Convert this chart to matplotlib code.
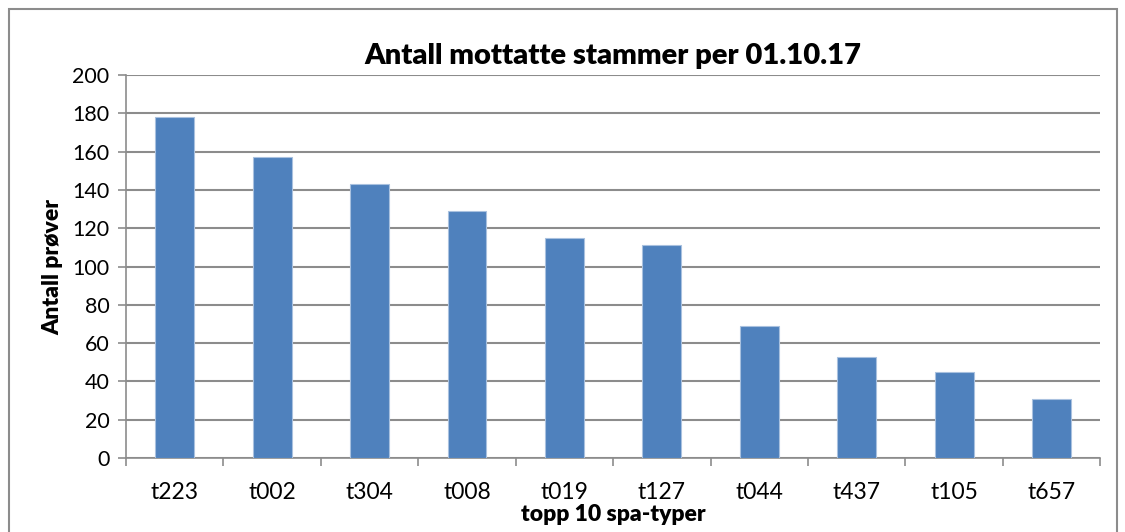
import matplotlib.pyplot as plt
import matplotlib.patches as patches
import numpy as np

plt.rcParams['font.family'] = ['Lato', 'DejaVu Sans']

spa_types = ['t223', 't002', 't304', 't008', 't019', 't127', 't044', 't437', 't105', 't657']
antall = [178, 157, 143, 129, 115, 111, 69, 53, 45, 31]

fig = plt.figure(figsize=(11.25, 5.32), dpi=100)
ax = fig.add_axes([0.112, 0.139, 0.866, 0.72])

x = np.arange(len(spa_types))
ax.bar(x, antall, width=0.4, color='#4F81BD', edgecolor='#A9C1DF', linewidth=0.8, zorder=3)

ax.set_xlim(-0.5, len(spa_types) - 0.5)
ax.set_ylim(0, 200)
ax.set_yticks(np.arange(0, 201, 20))
ax.yaxis.grid(True, color='#8C8C8C', linewidth=1.5, zorder=0)

ax.set_xticks(x)
ax.set_xticklabels(spa_types)
ax.set_xticks(np.arange(-0.5, len(spa_types)), minor=True)
ax.tick_params(axis='x', which='major', length=0, pad=17, labelsize=16.5)
ax.tick_params(axis='x', which='minor', length=6, width=1.2, color='#8C8C8C', direction='out')
ax.tick_params(axis='y', length=6, width=1.2, color='#8C8C8C', labelsize=15.5, pad=6)

for s in ['top', 'right']:
    ax.spines[s].set_visible(False)
for s in ['left', 'bottom']:
    ax.spines[s].set_color('#8C8C8C')
    ax.spines[s].set_linewidth(1.2)

ax.set_title('Antall mottatte stammer per 01.10.17', fontsize=21, fontweight='heavy', pad=8)
ax.set_ylabel('Antall prøver', fontsize=16.5, fontweight='heavy', labelpad=6)
ax.set_xlabel('topp 10 spa-typer', fontsize=16.5, fontweight='heavy', labelpad=1)

border = patches.Rectangle((9 / 1125, -0.05), 1108 / 1125, 1.05 - 9 / 532,
                           transform=fig.transFigure, fill=False,
                           edgecolor='#8C8C8C', linewidth=1.5)
fig.patches.append(border)

fig.savefig('out.png', dpi=100)
